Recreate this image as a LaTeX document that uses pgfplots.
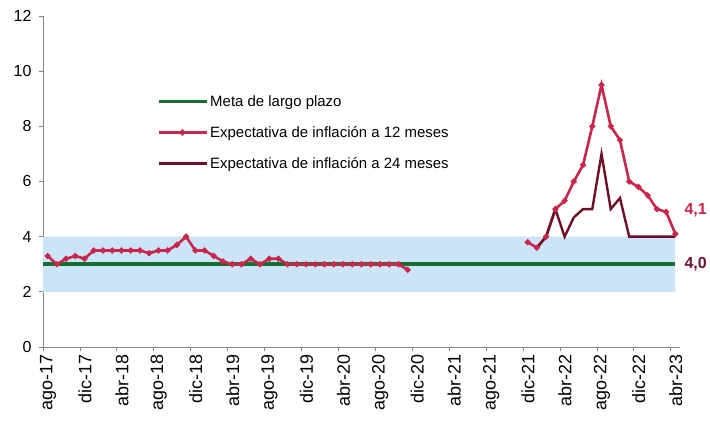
\documentclass[border=0pt]{standalone}
\usepackage{fontspec}
\setmainfont{Liberation Sans}
\usepackage{pgfplots}
\pgfplotsset{compat=1.18}

\definecolor{meta}{RGB}{22,110,50}
\definecolor{exp12}{RGB}{200,38,74}
\definecolor{exp24}{RGB}{110,15,40}
\definecolor{banda}{RGB}{204,228,248}
\definecolor{eje}{RGB}{130,130,130}

\begin{document}
\begin{tikzpicture}
\begin{axis}[
    scale only axis,
    width=637bp, height=331bp,
    xmin=0, xmax=69, ymin=0, ymax=12,
    axis lines*=left,
    axis line style={eje, line width=0.8bp},
    tick style={eje, line width=0.8bp},
    tick align=outside,
    major tick length=4bp,
    xtick={0,4,...,68},
    xticklabels={ago-17,dic-17,abr-18,ago-18,dic-18,abr-19,ago-19,dic-19,abr-20,ago-20,dic-20,abr-21,ago-21,dic-21,abr-22,ago-22,dic-22,abr-23},
    xticklabel style={xshift=5bp, rotate=90, anchor=east, font=\fontsize{18}{20}\selectfont},
    ytick={0,2,...,12},
    yticklabel style={font=\fontsize{16}{18}\selectfont, xshift=-4bp},
    /pgf/number format/assume math mode=true,
    clip=false,
    legend cell align=left,
    legend style={at={(axis cs:12.3,9.2)}, anchor=north west, draw=none, fill=none,
        inner sep=0pt, row sep=14.5bp, font=\fontsize{15}{17}\selectfont},
    legend image code/.code={\draw[mark repeat=2,mark phase=2,#1] plot coordinates {(0bp,0bp) (24bp,0bp) (48bp,0bp)};},
]
% rango de variacion
\addplot[fill=banda, draw=none, forget plot] coordinates {(0,2) (68.5,2) (68.5,4) (0,4) (0,2)};

\addplot[meta, line width=3.5bp, mark=none] coordinates {(0,3) (68.5,3)};
\addlegendentry{Meta de largo plazo}

\addplot[exp12, line width=2.6bp, mark=*, mark size=1.5bp, unbounded coords=jump] coordinates {
(0.5,3.3) (1.5,3.0) (2.5,3.2) (3.5,3.3) (4.5,3.2) (5.5,3.5) (6.5,3.5) (7.5,3.5)
(8.5,3.5) (9.5,3.5) (10.5,3.5) (11.5,3.4) (12.5,3.5) (13.5,3.5) (14.5,3.7) (15.5,4.0)
(16.5,3.5) (17.5,3.5) (18.5,3.3) (19.5,3.1) (20.5,3.0) (21.5,3.0) (22.5,3.2) (23.5,3.0)
(24.5,3.2) (25.5,3.2) (26.5,3.0) (27.5,3.0) (28.5,3.0) (29.5,3.0) (30.5,3.0) (31.5,3.0)
(32.5,3.0) (33.5,3.0) (34.5,3.0) (35.5,3.0) (36.5,3.0) (37.5,3.0) (38.5,3.0) (39.5,2.8)
(45,nan)
(52.5,3.8) (53.5,3.6) (54.5,4.0) (55.5,5.0) (56.5,5.3) (57.5,6.0) (58.5,6.6) (59.5,8.0)
(60.5,9.5) (61.5,8.0) (62.5,7.5) (63.5,6.0) (64.5,5.8) (65.5,5.5) (66.5,5.0) (67.5,4.9)
(68.5,4.1)
};
\addlegendentry{Expectativa de inflación a 12 meses}

\addplot[exp24, line width=2.4bp, mark=none] coordinates {
(53.5,3.6) (54.5,4.0) (55.5,5.0) (56.5,4.0) (57.5,4.7) (58.5,5.0) (59.5,5.0) (60.5,7.0)
(61.5,5.0) (62.5,5.4) (63.5,4.0) (64.5,4.0) (65.5,4.0) (66.5,4.0) (67.5,4.0) (68.5,4.0)
};
\addlegendentry{Expectativa de inflación a 24 meses}

\node[text=exp12, font=\bfseries\fontsize{16}{18}\selectfont] at (axis cs:70.7,4.97) {4,1};
\node[text=exp24, font=\bfseries\fontsize{16}{18}\selectfont] at (axis cs:70.7,3.0) {4,0};
\end{axis}
\pgfresetboundingbox
\useasboundingbox (current axis.south west) ++(-43bp,-79bp) rectangle ++(710bp,426bp);
\end{tikzpicture}
\end{document}
